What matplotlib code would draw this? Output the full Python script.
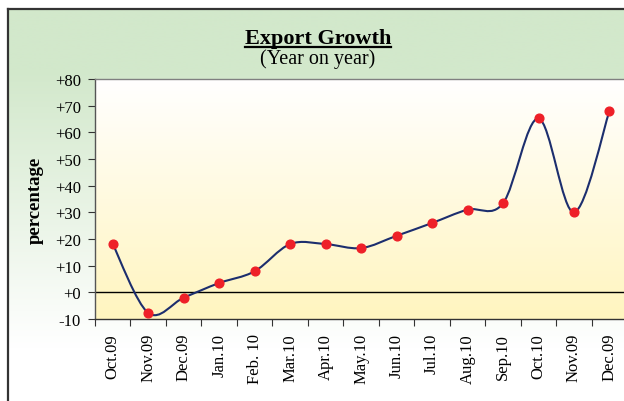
import numpy as np
import matplotlib
matplotlib.use('Agg')
import matplotlib.pyplot as plt
from matplotlib.path import Path
from matplotlib.patches import PathPatch
from matplotlib.lines import Line2D
from matplotlib.colors import LinearSegmentedColormap

# data
months = ['Oct.09', 'Nov.09', 'Dec.09', 'Jan.10', 'Feb. 10', 'Mar.10', 'Apr.10',
          'May.10', 'Jun.10', 'Jul.10', 'Aug.10', 'Sep.10', 'Oct.10', 'Nov.09', 'Dec.09']
growth = [18.1, -7.7, -2.0, 3.5, 7.9, 18.1, 18.1, 16.6, 21.2, 26.0, 31.0, 33.4, 65.2, 30.0, 68.0]
y_ticks = list(range(-10, 81, 10))

plt.rcParams['font.family'] = ['Liberation Serif', 'DejaVu Serif']

line_color = '#1c2e6e'
dot_color = '#ee2028'


def smooth_path(xs, ys):
    # excel-like smoothed line: bezier segments with catmull-rom control points
    pts = np.column_stack([xs, ys]).astype(float)
    n = len(pts)
    verts = [pts[0]]
    codes = [Path.MOVETO]
    for i in range(n - 1):
        p0 = pts[max(i - 1, 0)]
        p1 = pts[i]
        p2 = pts[i + 1]
        p3 = pts[min(i + 2, n - 1)]
        verts += [p1 + (p2 - p0) / 6, p2 - (p3 - p1) / 6, p2]
        codes += [Path.CURVE4] * 3
    return Path(verts, codes)


fig = plt.figure(figsize=(6.24, 4.02), dpi=100, facecolor='white')

# background panel with green -> white gradient and frame
bg = fig.add_axes([0, 0, 1, 1], zorder=-10)
bg.set_xlim(0, 624)
bg.set_ylim(402, 0)
bg.axis('off')
green = LinearSegmentedColormap.from_list('grn', ['#d2e8cb', '#ffffff'])
rows = np.linspace(10, 402, 300)
shade = np.clip((rows - 70) / 280, 0, 1)
bg.imshow(shade[:, None], extent=(8, 624, 402, 10), cmap=green, aspect='auto',
          vmin=0, vmax=1, interpolation='bilinear')
bg.plot([8, 8], [402, 10], color='#333333', lw=1.6, solid_capstyle='projecting')
bg.plot([8, 624], [10, 10], color='#333333', lw=1.6, solid_capstyle='projecting')

# plot area
ax = fig.add_axes([95 / 624, 82 / 402, 532.2 / 624, 240 / 402])
ax.set_facecolor('none')
x = np.arange(len(months))
ax.set_xlim(-0.5, len(months) - 0.5)
ax.set_ylim(-10, 80)

yellow = LinearSegmentedColormap.from_list('yel', ['#ffffff', '#fff5bf'])
ax.imshow(np.linspace(0, 1, 256)[:, None], extent=(-0.5, len(months) - 0.5, -10, 80),
          cmap=yellow, aspect='auto', origin='upper', zorder=0, interpolation='bilinear')

ax.axhline(0, color='black', lw=1.0, zorder=2)
ax.add_patch(PathPatch(smooth_path(x, growth), fill=False, edgecolor=line_color,
                       lw=1.5, zorder=3))
ax.plot(x, growth, 'o', color=dot_color, ms=6.3, mec=dot_color, zorder=4, clip_on=False)

for side, c in [('top', '#808080'), ('left', '#555555'), ('bottom', '#333333'), ('right', '#808080')]:
    ax.spines[side].set_color(c)
    ax.spines[side].set_linewidth(1.0)

# category boundaries get tick marks, centres get labels
ax.set_xticks(np.arange(-0.5, len(months), 1))
ax.set_xticklabels([])
ax.set_xticks(x, minor=True)
ax.set_xticklabels(months, minor=True, rotation=90, fontsize=12)
ax.tick_params(axis='x', which='major', length=5, direction='out', color='#333333')
ax.tick_params(axis='x', which='minor', length=0, pad=10)

ax.set_yticks(y_ticks)
ax.set_yticklabels([f'{v:+d}' if v != -10 else '-10' for v in y_ticks], fontsize=12)
ax.tick_params(axis='y', length=5, direction='out', color='#333333', pad=5)

fig.text(35 / 624, 1 - 200 / 402, 'percentage', rotation=90, ha='center', va='center',
         fontsize=13.5, fontweight='bold')

title = fig.text(318 / 624, 1 - 44 / 402, 'Export Growth', ha='center', va='baseline',
                 fontsize=16, fontweight='bold')
fig.text(318 / 624, 1 - 64 / 402, '(Year on year)', ha='center', va='baseline', fontsize=14.5)

# underline under the title
fig.canvas.draw()
bb = title.get_window_extent().transformed(fig.transFigure.inverted())
fig.add_artist(Line2D([bb.x0, bb.x1], [1 - 47.5 / 402, 1 - 47.5 / 402],
                      transform=fig.transFigure, color='black', lw=1.6))

fig.savefig('out.png', dpi=100)
